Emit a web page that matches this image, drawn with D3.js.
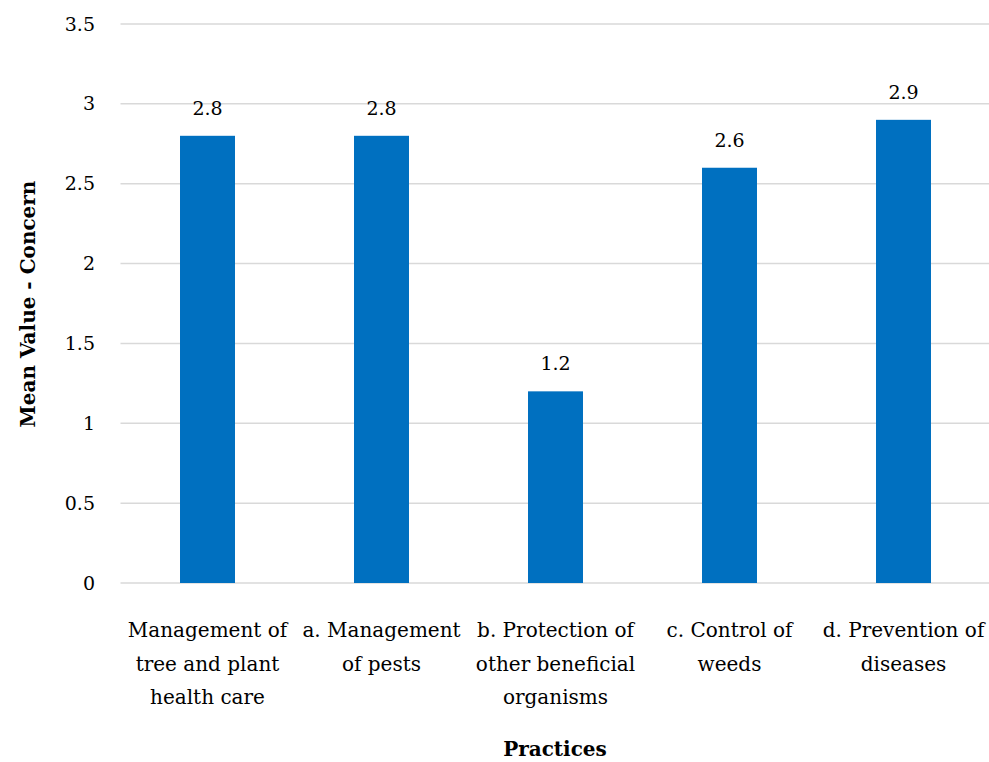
<!DOCTYPE html>
<html>
<head>
<meta charset="utf-8">
<script src="https://cdn.jsdelivr.net/npm/d3@7"></script>
<style>
  html, body { margin: 0; padding: 0; background: #fff; }
  svg { display: block; }
  text { font-family: "DejaVu Serif", "Liberation Serif", serif; fill: #000; }
</style>
</head>
<body>
<svg id="chart" width="989" height="762"></svg>
<script>
// Mean concern value per practice
const categories = [
  "Management of tree and plant health care",
  "a. Management of pests",
  "b. Protection of other beneficial organisms",
  "c. Control of weeds",
  "d. Prevention of diseases"
];
const categoryLines = [
  ["Management of", "tree and plant", "health care"],
  ["a. Management", "of pests"],
  ["b. Protection of", "other beneficial", "organisms"],
  ["c. Control of", "weeds"],
  ["d. Prevention of", "diseases"]
];
const values = [2.8, 2.8, 1.2, 2.6, 2.9];
const yTicks = [0, 0.5, 1, 1.5, 2, 2.5, 3, 3.5];
const yTickLabels = ["0", "0.5", "1", "1.5", "2", "2.5", "3", "3.5"];
const xTitle = "Practices";
const yTitle = "Mean Value - Concern";

const svg = d3.select("#chart");
const margin = { left: 120.5, right: -1.5, top: 24, bottom: 179 };
const W = 989, H = 762;

const x = d3.scaleBand()
  .domain(categories)
  .range([margin.left, W - margin.right])
  .paddingInner(0.684)
  .paddingOuter(0.342);

const y = d3.scaleLinear()
  .domain([0, 3.5])
  .range([H - margin.bottom, margin.top]);

// Horizontal gridlines
svg.append("g")
  .selectAll("line")
  .data(yTicks)
  .join("line")
  .attr("x1", margin.left)
  .attr("x2", W - margin.right)
  .attr("y1", d => y(d))
  .attr("y2", d => y(d))
  .attr("stroke", "#d9d9d9")
  .attr("stroke-width", 1.5);

// Y axis tick labels
const yAxis = d3.axisLeft(y)
  .tickValues(yTicks)
  .tickFormat((d, i) => yTickLabels[i])
  .tickSize(0)
  .tickPadding(0);
const gy = svg.append("g")
  .attr("transform", "translate(95,0)")
  .call(yAxis);
gy.select(".domain").remove();
gy.selectAll("text")
  .style("font-family", '"DejaVu Serif", serif')
  .style("font-size", "19px")
  .attr("fill", "#000");

// Bars
svg.append("g")
  .selectAll("rect")
  .data(values)
  .join("rect")
  .attr("x", (d, i) => x(categories[i]))
  .attr("width", x.bandwidth())
  .attr("y", d => y(d))
  .attr("height", d => y(0) - y(d))
  .attr("fill", "#0070c0");

// Value labels
svg.append("g")
  .selectAll("text")
  .data(values)
  .join("text")
  .attr("x", (d, i) => x(categories[i]) + x.bandwidth() / 2)
  .attr("y", d => y(d) - 21)
  .attr("text-anchor", "middle")
  .style("font-size", "19px")
  .text(d => d.toFixed(1));

// Category labels
const xLab = svg.append("g")
  .selectAll("text")
  .data(categoryLines)
  .join("text")
  .attr("text-anchor", "middle")
  .style("font-size", "20px")
  .attr("transform", (d, i) => `translate(${x(categories[i]) + x.bandwidth() / 2},637)`);
xLab.selectAll("tspan")
  .data(d => d)
  .join("tspan")
  .attr("x", 0)
  .attr("y", (d, i) => i * 33.5)
  .text(d => d);

// Axis titles
svg.append("text")
  .attr("x", 555)
  .attr("y", 756)
  .attr("text-anchor", "middle")
  .style("font-size", "20px")
  .style("font-weight", "bold")
  .text(xTitle);

svg.append("text")
  .attr("transform", "translate(35,304) rotate(-90)")
  .attr("text-anchor", "middle")
  .style("font-size", "20px")
  .style("font-weight", "bold")
  .text(yTitle);
</script>
</body>
</html>
